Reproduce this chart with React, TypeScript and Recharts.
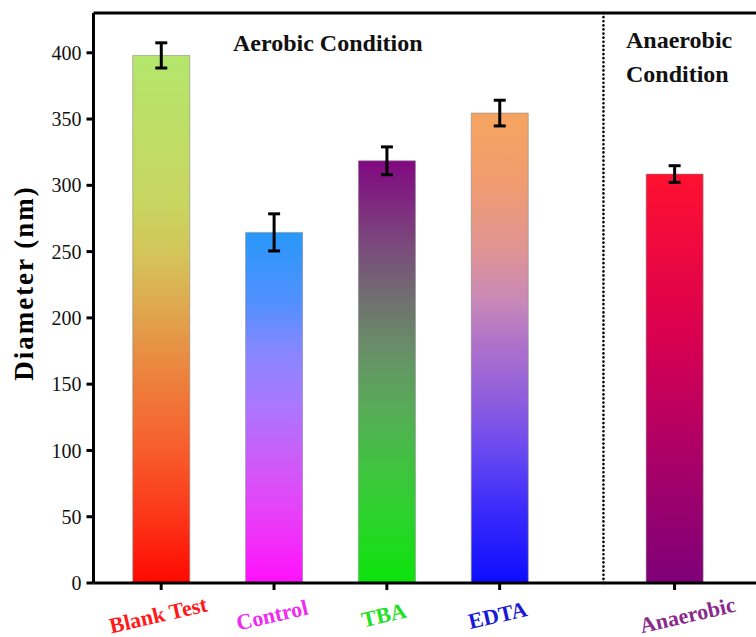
import {
  Bar,
  BarChart,
  Cell,
  ErrorBar,
  ReferenceLine,
  XAxis,
  YAxis,
} from "recharts";

// sample groups, where each bar sits on the x axis, mean diameter (nm) and its error
const categories = ["Blank Test", "Control", "TBA", "EDTA", "Anaerobic"];
const positions = [1, 2, 3, 4, 5.55];
const diameters = [398, 264.5, 318.5, 354.5, 308.5];
const errors = [9.5, 14, 10.5, 9.7, 6.3];
const yTicks = [0, 50, 100, 150, 200, 250, 300, 350, 400];
const dividerAt = 4.92;

const labelColors = ["#ff1a1a", "#f02af0", "#22e022", "#1a1ad8", "#8a2a8a"];
// horizontal nudge of each category label (px)
const labelNudge = [-3, -2, -3, -2, 13];

// vertical gradient stops per bar, top -> bottom
const gradients: [number, string][][] = [
  [
    [0, "#b4e66c"],
    [0.28, "#c8d660"],
    [0.37, "#d4c65a"],
    [0.47, "#deaa50"],
    [0.6, "#ec843e"],
    [0.75, "#f85c2c"],
    [0.88, "#fc3418"],
    [1, "#ff0800"],
  ],
  [
    [0, "#2898f8"],
    [0.2, "#5290fe"],
    [0.35, "#8a86ff"],
    [0.5, "#ac76fe"],
    [0.65, "#cc5cf8"],
    [0.8, "#e840f8"],
    [1, "#ff10fc"],
  ],
  [
    [0, "#820882"],
    [0.2, "#7a4a7c"],
    [0.33, "#707070"],
    [0.45, "#689068"],
    [0.58, "#58aa58"],
    [0.72, "#40c240"],
    [0.86, "#28d428"],
    [1, "#0ce40c"],
  ],
  [
    [0, "#f6a460"],
    [0.15, "#f09c70"],
    [0.29, "#e09494"],
    [0.4, "#c888b8"],
    [0.5, "#ac70cc"],
    [0.62, "#8c5ce0"],
    [0.72, "#6848f0"],
    [0.84, "#3c2cfa"],
    [1, "#0c0cff"],
  ],
  [
    [0, "#ff1030"],
    [0.4, "#d80050"],
    [0.7, "#aa0068"],
    [1, "#7e0078"],
  ],
];

const data = categories.map((name, i) => ({
  name,
  x: positions[i],
  diameter: diameters[i],
  err: errors[i],
}));

const serif = "'Liberation Serif', 'Times New Roman', serif";

function CategoryTick(props: any) {
  const { x, y, payload } = props;
  const idx = positions.indexOf(payload.value);
  if (idx < 0) return null;
  return (
    <g transform={`translate(${x + labelNudge[idx]},${y + 23}) rotate(-13)`}>
      <text
        textAnchor="middle"
        dominantBaseline="central"
        fontFamily={serif}
        fontWeight="bold"
        fontSize={22}
        fill={labelColors[idx]}
      >
        {categories[idx]}
      </text>
    </g>
  );
}

function AxisTitle() {
  return (
    <text
      x={33}
      y={283}
      transform="rotate(-90 33 283)"
      textAnchor="middle"
      fontFamily={serif}
      fontWeight="bold"
      fontSize={27}
      letterSpacing={2}
      fill="#000"
    >
      Diameter (nm)
    </text>
  );
}

const noteStyle = {
  position: "absolute" as const,
  fontFamily: serif,
  fontWeight: "bold" as const,
  fontSize: 24,
  lineHeight: "34px",
  color: "#111",
  whiteSpace: "nowrap" as const,
};

export default function App() {
  return (
    <div
      style={{
        position: "fixed",
        left: 0,
        top: 0,
        width: 756,
        height: 637,
        overflow: "hidden",
        background: "#fff",
      }}
    >
      <BarChart
        width={793}
        height={637}
        data={data}
        margin={{ top: 13, right: 0, bottom: 0, left: 0 }}
      >
        <defs>
          {gradients.map((stops, i) => (
            <linearGradient key={i} id={`barFill${i}`} x1="0" y1="0" x2="0" y2="1">
              {stops.map(([o, c]) => (
                <stop key={o} offset={o} stopColor={c} />
              ))}
            </linearGradient>
          ))}
        </defs>
        <XAxis
          dataKey="x"
          type="number"
          domain={[0.4, 6.6]}
          ticks={positions}
          interval={0}
          height={54}
          axisLine={{ stroke: "#000", strokeWidth: 3 }}
          tickLine={{ stroke: "#000", strokeWidth: 3 }}
          tickSize={7}
          tickMargin={2}
          tick={<CategoryTick />}
        />
        <YAxis
          type="number"
          domain={[0, 430]}
          ticks={yTicks}
          interval={0}
          width={93.5}
          axisLine={{ stroke: "#000", strokeWidth: 3 }}
          tickLine={{ stroke: "#000", strokeWidth: 3 }}
          tickSize={7}
          tickMargin={5}
          tick={{ fontSize: 20, fill: "#111", fontFamily: serif }}
          label={<AxisTitle />}
        />
        <ReferenceLine y={430} stroke="#000" strokeWidth={3} />
        <ReferenceLine
          x={dividerAt}
          stroke="#000"
          strokeWidth={2.6}
          strokeDasharray="0.1 4"
          strokeLinecap="round"
        />
        <Bar
          dataKey="diameter"
          barSize={57}
          stroke="#8a8a8a"
          strokeWidth={0.6}
          isAnimationActive={false}
        >
          {data.map((d, i) => (
            <Cell key={d.name} fill={`url(#barFill${i})`} />
          ))}
          <ErrorBar
            dataKey="err"
            direction="y"
            width={6}
            stroke="#000"
            strokeWidth={3}
            isAnimationActive={false}
          />
        </Bar>
      </BarChart>
      <div style={{ ...noteStyle, left: 233, top: 26 }}>Aerobic Condition</div>
      <div style={{ ...noteStyle, left: 626, top: 23 }}>
        Anaerobic
        <br />
        Condition
      </div>
    </div>
  );
}
